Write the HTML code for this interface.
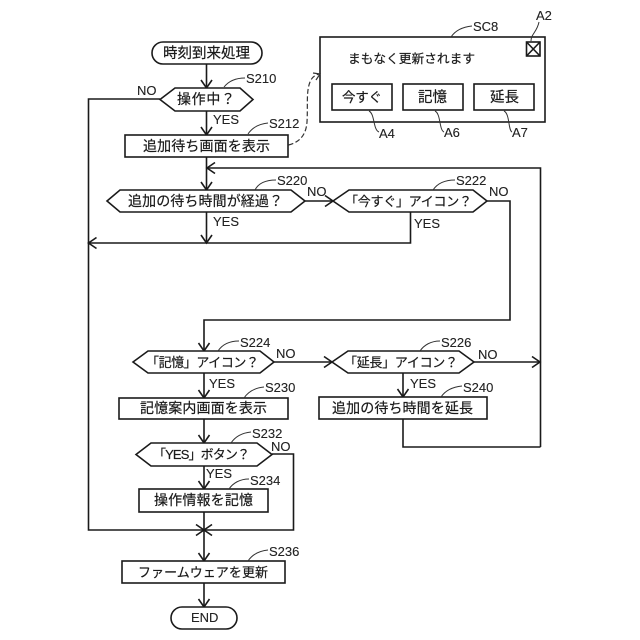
<!DOCTYPE html>
<html><head><meta charset="utf-8"><style>
html,body{margin:0;padding:0;background:#fff}
svg{display:block}
.j{font-family:"Liberation Sans","Noto Sans CJK JP",sans-serif;fill:#1a1a1a;stroke:#1a1a1a;stroke-width:.2}
.l{font-family:"Liberation Sans",sans-serif;font-size:13px;fill:#222;stroke:#222;stroke-width:.12}
.s{fill:none;stroke:#1a1a1a;stroke-width:1.6}
.t{fill:none;stroke:#333;stroke-width:1}
</style></head><body>
<svg width="640" height="640" viewBox="0 0 640 640" xmlns="http://www.w3.org/2000/svg">
<rect width="640" height="640" fill="#fff"/>
<g class="s">
<!-- connectors -->
<path d="M206.5 64V88M206.5 111V135M206.5 157V190M206.5 212V243"/>
<path d="M160 99H88.5V530H293.5V454H272"/>
<path d="M540.5 447V168H207"/>
<path d="M88.5 243H410.5V212"/>
<path d="M305 201H333M487 201H510V320H204V351"/>
<path d="M274 362H332M474 362H540"/>
<path d="M403 373V397M403 419V447H540.5"/>
<path d="M204 373V398M204 419V443M204 466V489M204 512V561M204 583V607"/>
<!-- arrowheads -->
<path d="M201 80L206.5 88L212 80M201 127L206.5 135L212 127M201 182L206.5 190L212 182M201 235L206.5 243L212 235"/>
<path d="M215 162.500L207 168L215 173.500M96.500 237.500L88.500 243L96.500 248.500"/>
<path d="M325 195.500L333 201L325 206.500M324 356.500L332 362L324 367.500M532 356.500L540 362L532 367.500"/>
<path d="M198.500 343L204 351L209.500 343M198.500 390L204 398L209.500 390M198.500 435L204 443L209.500 435M198.500 481L204 489L209.500 481M198.500 553L204 561L209.500 553M198.500 599L204 607L209.500 599M397.500 389L403 397L408.500 389"/>
<path d="M196 524.500L204 530L196 535.500M212 524.500L204 530L212 535.500"/>
<!-- nodes -->
<rect x="152" y="42" width="110" height="22" rx="11" fill="#fff"/>
<path d="M160 99.500L175 88H240L253 99.500L240 111H175Z" fill="#fff"/>
<rect x="125" y="135" width="163" height="22" fill="#fff"/>
<path d="M107 201L120 190H291L305 201L291 212H120Z" fill="#fff"/>
<path d="M333 201L349 190H473L487 201L473 212H349Z" fill="#fff"/>
<path d="M133 362L148 351H260L274 362L260 373H148Z" fill="#fff"/>
<path d="M332 362L348 351H459L474 362L459 373H348Z" fill="#fff"/>
<rect x="119" y="398" width="169" height="21" fill="#fff"/>
<rect x="319" y="397" width="168" height="22" fill="#fff"/>
<path d="M136 454.500L151 443H257L272 454.500L257 466H151Z" fill="#fff"/>
<rect x="139" y="489" width="129" height="23" fill="#fff"/>
<rect x="122" y="561" width="163" height="22" fill="#fff"/>
<rect x="171" y="607" width="66" height="22" rx="11" fill="#fff"/>
<!-- screen -->
<rect x="320" y="37" width="225" height="85" fill="#fff"/>
<rect x="526.500" y="42" width="13.500" height="14"/>
<path d="M526.500 42L540 56M540 42L526.500 56"/>
<rect x="332" y="84" width="60" height="26"/>
<rect x="403" y="84" width="60" height="26"/>
<rect x="474" y="84" width="60" height="26"/>
</g>
<!-- dashed -->
<path d="M288.500 145C300 142 306 135 307 122C308 105 306 92 310 82C312 77 315 75 319 74" fill="none" stroke="#333" stroke-width="1.200" stroke-dasharray="5 2.500"/>
<path d="M313 73L320 74L316 80" fill="none" stroke="#333" stroke-width="1.200"/>
<!-- leaders -->
<g class="t">
<path d="M224 87C228 82 235 78 245 78"/>
<path d="M248 134C252 128 258 124 268 123"/>
<path d="M255 190C258 184 265 180 276 180"/>
<path d="M433 190C437 184 444 180 455 180"/>
<path d="M218 351C222 345 229 341 239 341"/>
<path d="M420 351C424 345 431 341 440 341"/>
<path d="M244 398C248 392 254 388 264 387"/>
<path d="M441 397C445 391 452 387 462 386"/>
<path d="M231 443C235 437 241 433 251 432"/>
<path d="M229 489C233 483 240 479 249 479"/>
<path d="M248 561C252 555 258 551 268 550"/>
<path d="M451 37C455 31 462 27 472 26"/>
<path d="M531 41C531 34 537 32 539 22"/>
<path d="M369 111C375 114 373 130 379 132"/>
<path d="M435 111C441 114 439 130 444 132"/>
<path d="M504 111C510 114 508 130 512 132"/>
</g>
<!-- Japanese text -->
<g class="j">
<text x="163" y="58" font-size="14.500" textLength="87">時刻到来処理</text>
<text x="177" y="104" font-size="14" textLength="58">操作中？</text>
<text x="143" y="151" font-size="14" textLength="127">追加待ち画面を表示</text>
<text x="128" y="206" font-size="14" textLength="155">追加の待ち時間が経過？</text>
<text x="345" y="206" font-size="13" textLength="127">「今すぐ」アイコン？</text>
<text x="146" y="367" font-size="13" textLength="113">「記憶」アイコン？</text>
<text x="344" y="367" font-size="13" textLength="114">「延長」アイコン？</text>
<text x="140" y="413" font-size="14" textLength="127">記憶案内画面を表示</text>
<text x="332" y="413" font-size="14" textLength="141">追加の待ち時間を延長</text>
<text x="153" y="459" font-size="13" textLength="97">「YES」ボタン？</text>
<text x="154" y="505" font-size="14" textLength="99">操作情報を記憶</text>
<text x="138" y="577" font-size="13" textLength="130">ファームウェアを更新</text>
<text x="348" y="63" font-size="12.700" textLength="127">まもなく更新されます</text>
<text x="342" y="102" font-size="13.500" textLength="40">今すぐ</text>
<text x="418" y="102" font-size="14.500" textLength="29">記憶</text>
<text x="490" y="102" font-size="14.500" textLength="29">延長</text>
</g>
<!-- Latin labels -->
<g class="l">
<text x="191" y="622" font-size="13" style="font-size:13px">END</text>
<text x="137" y="95">NO</text>
<text x="246" y="83">S210</text>
<text x="213" y="124">YES</text>
<text x="269" y="128">S212</text>
<text x="277" y="185">S220</text>
<text x="307" y="196">NO</text>
<text x="456" y="185">S222</text>
<text x="489" y="196">NO</text>
<text x="414" y="228">YES</text>
<text x="213" y="226">YES</text>
<text x="240" y="347">S224</text>
<text x="276" y="358">NO</text>
<text x="441" y="347">S226</text>
<text x="478" y="359">NO</text>
<text x="209" y="388">YES</text>
<text x="410" y="388">YES</text>
<text x="265" y="392">S230</text>
<text x="463" y="392">S240</text>
<text x="252" y="438">S232</text>
<text x="271" y="451">NO</text>
<text x="206" y="478">YES</text>
<text x="250" y="485">S234</text>
<text x="269" y="556">S236</text>
<text x="473" y="31">SC8</text>
<text x="536" y="20">A2</text>
<text x="379" y="138">A4</text>
<text x="444" y="137">A6</text>
<text x="512" y="137">A7</text>
</g>
</svg>
</body></html>
